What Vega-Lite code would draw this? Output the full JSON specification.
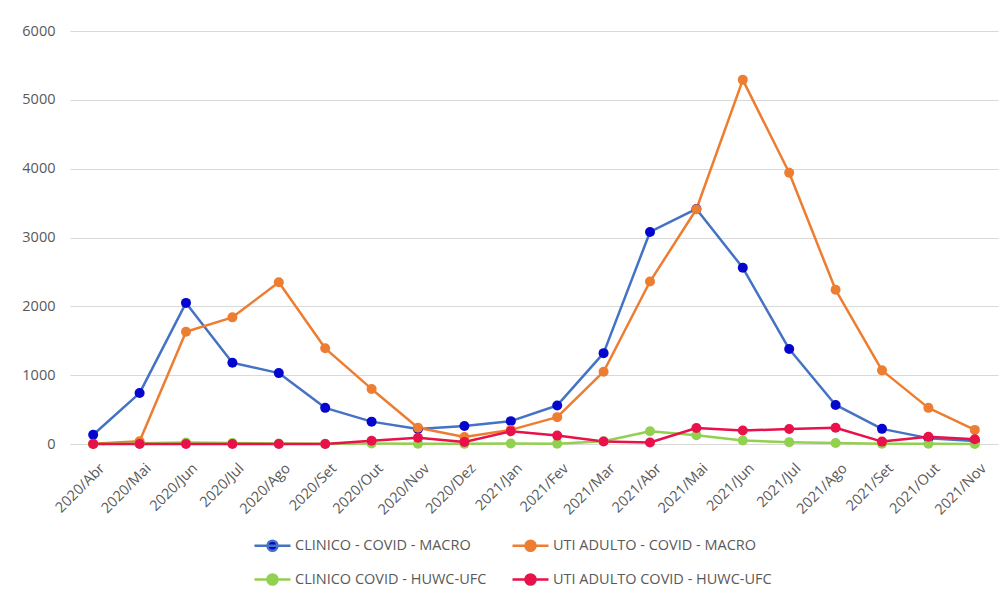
{
  "$schema": "https://vega.github.io/schema/vega-lite/v6.json",
  "autosize": {"type": "none"},
  "width": 928,
  "height": 413,
  "padding": {"left": 70, "top": 31, "right": 7, "bottom": 149},
  "background": "white",
  "config": {
    "view": {"stroke": null},
    "font": "Open Sans",
    "axis": {"labelColor": "#595959", "labelFontSize": 14.5, "ticks": false, "title": null}
  },
  "datasets": {
    "leitos": [
      {"mes": "2020/Abr", "serie": "CLINICO - COVID - MACRO", "valor": 135},
      {"mes": "2020/Mai", "serie": "CLINICO - COVID - MACRO", "valor": 740},
      {"mes": "2020/Jun", "serie": "CLINICO - COVID - MACRO", "valor": 2050},
      {"mes": "2020/Jul", "serie": "CLINICO - COVID - MACRO", "valor": 1180},
      {"mes": "2020/Ago", "serie": "CLINICO - COVID - MACRO", "valor": 1030},
      {"mes": "2020/Set", "serie": "CLINICO - COVID - MACRO", "valor": 525},
      {"mes": "2020/Out", "serie": "CLINICO - COVID - MACRO", "valor": 325},
      {"mes": "2020/Nov", "serie": "CLINICO - COVID - MACRO", "valor": 218},
      {"mes": "2020/Dez", "serie": "CLINICO - COVID - MACRO", "valor": 261},
      {"mes": "2021/Jan", "serie": "CLINICO - COVID - MACRO", "valor": 332},
      {"mes": "2021/Fev", "serie": "CLINICO - COVID - MACRO", "valor": 560},
      {"mes": "2021/Mar", "serie": "CLINICO - COVID - MACRO", "valor": 1320},
      {"mes": "2021/Abr", "serie": "CLINICO - COVID - MACRO", "valor": 3080},
      {"mes": "2021/Mai", "serie": "CLINICO - COVID - MACRO", "valor": 3415},
      {"mes": "2021/Jun", "serie": "CLINICO - COVID - MACRO", "valor": 2560},
      {"mes": "2021/Jul", "serie": "CLINICO - COVID - MACRO", "valor": 1380},
      {"mes": "2021/Ago", "serie": "CLINICO - COVID - MACRO", "valor": 567},
      {"mes": "2021/Set", "serie": "CLINICO - COVID - MACRO", "valor": 220},
      {"mes": "2021/Out", "serie": "CLINICO - COVID - MACRO", "valor": 85},
      {"mes": "2021/Nov", "serie": "CLINICO - COVID - MACRO", "valor": 45},

      {"mes": "2020/Abr", "serie": "UTI ADULTO - COVID - MACRO", "valor": 5},
      {"mes": "2020/Mai", "serie": "UTI ADULTO - COVID - MACRO", "valor": 39},
      {"mes": "2020/Jun", "serie": "UTI ADULTO - COVID - MACRO", "valor": 1630},
      {"mes": "2020/Jul", "serie": "UTI ADULTO - COVID - MACRO", "valor": 1840},
      {"mes": "2020/Ago", "serie": "UTI ADULTO - COVID - MACRO", "valor": 2350},
      {"mes": "2020/Set", "serie": "UTI ADULTO - COVID - MACRO", "valor": 1390},
      {"mes": "2020/Out", "serie": "UTI ADULTO - COVID - MACRO", "valor": 800},
      {"mes": "2020/Nov", "serie": "UTI ADULTO - COVID - MACRO", "valor": 237},
      {"mes": "2020/Dez", "serie": "UTI ADULTO - COVID - MACRO", "valor": 102},
      {"mes": "2021/Jan", "serie": "UTI ADULTO - COVID - MACRO", "valor": 205},
      {"mes": "2021/Fev", "serie": "UTI ADULTO - COVID - MACRO", "valor": 390},
      {"mes": "2021/Mar", "serie": "UTI ADULTO - COVID - MACRO", "valor": 1050},
      {"mes": "2021/Abr", "serie": "UTI ADULTO - COVID - MACRO", "valor": 2360},
      {"mes": "2021/Mai", "serie": "UTI ADULTO - COVID - MACRO", "valor": 3410},
      {"mes": "2021/Jun", "serie": "UTI ADULTO - COVID - MACRO", "valor": 5290},
      {"mes": "2021/Jul", "serie": "UTI ADULTO - COVID - MACRO", "valor": 3940},
      {"mes": "2021/Ago", "serie": "UTI ADULTO - COVID - MACRO", "valor": 2240},
      {"mes": "2021/Set", "serie": "UTI ADULTO - COVID - MACRO", "valor": 1070},
      {"mes": "2021/Out", "serie": "UTI ADULTO - COVID - MACRO", "valor": 525},
      {"mes": "2021/Nov", "serie": "UTI ADULTO - COVID - MACRO", "valor": 205},

      {"mes": "2020/Abr", "serie": "CLINICO COVID - HUWC-UFC", "valor": 0},
      {"mes": "2020/Mai", "serie": "CLINICO COVID - HUWC-UFC", "valor": 10},
      {"mes": "2020/Jun", "serie": "CLINICO COVID - HUWC-UFC", "valor": 20},
      {"mes": "2020/Jul", "serie": "CLINICO COVID - HUWC-UFC", "valor": 15},
      {"mes": "2020/Ago", "serie": "CLINICO COVID - HUWC-UFC", "valor": 8},
      {"mes": "2020/Set", "serie": "CLINICO COVID - HUWC-UFC", "valor": 2},
      {"mes": "2020/Out", "serie": "CLINICO COVID - HUWC-UFC", "valor": 8},
      {"mes": "2020/Nov", "serie": "CLINICO COVID - HUWC-UFC", "valor": 5},
      {"mes": "2020/Dez", "serie": "CLINICO COVID - HUWC-UFC", "valor": 2},
      {"mes": "2021/Jan", "serie": "CLINICO COVID - HUWC-UFC", "valor": 8},
      {"mes": "2021/Fev", "serie": "CLINICO COVID - HUWC-UFC", "valor": 5},
      {"mes": "2021/Mar", "serie": "CLINICO COVID - HUWC-UFC", "valor": 40},
      {"mes": "2021/Abr", "serie": "CLINICO COVID - HUWC-UFC", "valor": 185},
      {"mes": "2021/Mai", "serie": "CLINICO COVID - HUWC-UFC", "valor": 128},
      {"mes": "2021/Jun", "serie": "CLINICO COVID - HUWC-UFC", "valor": 50},
      {"mes": "2021/Jul", "serie": "CLINICO COVID - HUWC-UFC", "valor": 27},
      {"mes": "2021/Ago", "serie": "CLINICO COVID - HUWC-UFC", "valor": 15},
      {"mes": "2021/Set", "serie": "CLINICO COVID - HUWC-UFC", "valor": 3},
      {"mes": "2021/Out", "serie": "CLINICO COVID - HUWC-UFC", "valor": 3},
      {"mes": "2021/Nov", "serie": "CLINICO COVID - HUWC-UFC", "valor": 0},

      {"mes": "2020/Abr", "serie": "UTI ADULTO COVID - HUWC-UFC", "valor": 0},
      {"mes": "2020/Mai", "serie": "UTI ADULTO COVID - HUWC-UFC", "valor": 0},
      {"mes": "2020/Jun", "serie": "UTI ADULTO COVID - HUWC-UFC", "valor": 0},
      {"mes": "2020/Jul", "serie": "UTI ADULTO COVID - HUWC-UFC", "valor": 0},
      {"mes": "2020/Ago", "serie": "UTI ADULTO COVID - HUWC-UFC", "valor": 0},
      {"mes": "2020/Set", "serie": "UTI ADULTO COVID - HUWC-UFC", "valor": 0},
      {"mes": "2020/Out", "serie": "UTI ADULTO COVID - HUWC-UFC", "valor": 48},
      {"mes": "2020/Nov", "serie": "UTI ADULTO COVID - HUWC-UFC", "valor": 90},
      {"mes": "2020/Dez", "serie": "UTI ADULTO COVID - HUWC-UFC", "valor": 30},
      {"mes": "2021/Jan", "serie": "UTI ADULTO COVID - HUWC-UFC", "valor": 185},
      {"mes": "2021/Fev", "serie": "UTI ADULTO COVID - HUWC-UFC", "valor": 122},
      {"mes": "2021/Mar", "serie": "UTI ADULTO COVID - HUWC-UFC", "valor": 36},
      {"mes": "2021/Abr", "serie": "UTI ADULTO COVID - HUWC-UFC", "valor": 22},
      {"mes": "2021/Mai", "serie": "UTI ADULTO COVID - HUWC-UFC", "valor": 232},
      {"mes": "2021/Jun", "serie": "UTI ADULTO COVID - HUWC-UFC", "valor": 195},
      {"mes": "2021/Jul", "serie": "UTI ADULTO COVID - HUWC-UFC", "valor": 218},
      {"mes": "2021/Ago", "serie": "UTI ADULTO COVID - HUWC-UFC", "valor": 237},
      {"mes": "2021/Set", "serie": "UTI ADULTO COVID - HUWC-UFC", "valor": 35},
      {"mes": "2021/Out", "serie": "UTI ADULTO COVID - HUWC-UFC", "valor": 105},
      {"mes": "2021/Nov", "serie": "UTI ADULTO COVID - HUWC-UFC", "valor": 70}
    ]
  },
  "data": {"name": "leitos"},
  "encoding": {
    "x": {
      "field": "mes",
      "type": "ordinal",
      "sort": null,
      "scale": {"paddingInner": 0, "paddingOuter": 0},
      "axis": {"labelAngle": -45, "labelPadding": 17, "labelOffset": 4, "domainColor": "#d9d9d9", "domainWidth": 1, "grid": false}
    },
    "y": {
      "field": "valor",
      "type": "quantitative",
      "scale": {"domain": [0, 6000], "nice": false},
      "axis": {"values": [0, 1000, 2000, 3000, 4000, 5000, 6000], "domain": false, "gridColor": "#d9d9d9", "gridWidth": 1, "labelPadding": 15, "format": "d"}
    }
  },
  "layer": [
    {
      "mark": {"type": "line", "strokeWidth": 2.5, "strokeJoin": "round"},
      "encoding": {
        "stroke": {
          "field": "serie",
          "type": "nominal",
          "scale": {
            "domain": ["CLINICO - COVID - MACRO", "UTI ADULTO - COVID - MACRO", "CLINICO COVID - HUWC-UFC", "UTI ADULTO COVID - HUWC-UFC"],
            "range": ["#4472C4", "#ED7D31", "#92D050", "#E8114A"]
          },
          "legend": {
            "orient": "none",
            "direction": "horizontal",
            "legendX": 183,
            "legendY": 495,
            "columns": 2,
            "columnPadding": 20,
            "rowPadding": 4,
            "title": null,
            "labelFontSize": 14.5,
            "labelColor": "#595959",
            "labelLimit": 400,
            "labelOffset": 3,
            "symbolSize": 1296,
            "symbolStrokeWidth": 2.5,
            "symbolType": "M-1,0H1M-0.28,0A0.28,0.28 0 1,0 0.28,0A0.28,0.28 0 1,0 -0.28,0Z"
          }
        },
        "order": {"field": "serie"}
      }
    },
    {
      "mark": {"type": "point", "filled": true, "size": 100, "opacity": 1},
      "encoding": {
        "fill": {
          "field": "serie",
          "type": "nominal",
          "scale": {
            "domain": ["CLINICO - COVID - MACRO", "UTI ADULTO - COVID - MACRO", "CLINICO COVID - HUWC-UFC", "UTI ADULTO COVID - HUWC-UFC"],
            "range": ["#0505D0", "#ED7D31", "#92D050", "#E8114A"]
          },
          "legend": null
        },
        "order": {"field": "serie"}
      }
    }
  ]
}
